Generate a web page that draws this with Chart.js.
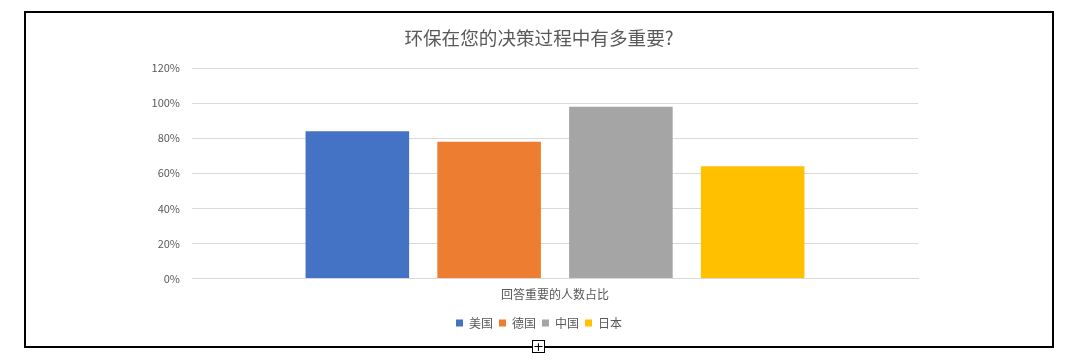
<!DOCTYPE html>
<html>
<head>
<meta charset="utf-8">
<script src="https://cdn.jsdelivr.net/npm/chart.js@4/dist/chart.umd.min.js"></script>
<style>
  html, body { margin: 0; padding: 0; background: #fff; width: 1080px; height: 360px; overflow: hidden; }
  #frame { position: absolute; left: 24px; top: 11px; width: 1030px; height: 337px; border: 2px solid #000; box-sizing: border-box; background: #fff; }
  #wrap { position: absolute; left: 0; top: 0; width: 1026px; height: 333px; }
  #handle { position: absolute; left: 532px; top: 340px; width: 11px; height: 11px; border: 1px solid #000; background: #fff;
            font: 13px/11px "DejaVu Sans", sans-serif; text-align: center; color: #000; }
</style>
</head>
<body>
<div id="frame"><div id="wrap"><canvas id="c" width="1026" height="333"></canvas></div></div>
<div id="handle">+</div>
<script>
const chartTitle = '环保在您的决策过程中有多重要?';
const categories = ['回答重要的人数占比'];
const seriesNames = ['美国', '德国', '中国', '日本'];
const seriesValues = [[0.84], [0.78], [0.98], [0.64]];
const seriesColors = ['#4472C4', '#ED7D31', '#A5A5A5', '#FFC000'];
const yTickLabels = ['0%', '20%', '40%', '60%', '80%', '100%', '120%'];

const FONT = '"Noto Sans CJK SC", "Noto Sans", sans-serif';
const TXT = '#595959';

new Chart(document.getElementById('c'), {
  type: 'bar',
  data: {
    labels: categories,
    datasets: seriesNames.map((n, i) => ({
      label: n,
      data: seriesValues[i],
      backgroundColor: seriesColors[i],
      borderWidth: 0,
      categoryPercentage: 0.726,
      barPercentage: 0.786
    }))
  },
  options: {
    responsive: false,
    animation: false,
    devicePixelRatio: 1,
    layout: { padding: { left: 0, right: 0, top: 14, bottom: 7 } },
    plugins: {
      title: {
        display: true, text: chartTitle, color: TXT,
        font: { family: FONT, size: 18.6, weight: 'normal' },
        padding: { top: 0, bottom: 18.7 }
      },
      legend: {
        position: 'bottom',
        labels: {
          color: TXT, font: { family: FONT, size: 12 },
          boxWidth: 7, boxHeight: 7, padding: 6
        }
      },
      tooltip: { enabled: false }
    },
    scales: {
      x: {
        grid: { display: false, drawTicks: false },
        border: { display: true, color: '#D9D9D9' },
        ticks: { color: TXT, font: { family: FONT, size: 12 }, padding: 9 }
      },
      y: {
        min: 0, max: 1.2,
        afterFit: s => { s.width = 166; },
        grid: { color: '#D9D9D9', drawTicks: false },
        border: { display: false },
        ticks: {
          stepSize: 0.2, padding: 12, color: TXT,
          font: { family: FONT, size: 11 },
          callback: (v, i) => yTickLabels[i]
        }
      },
      yRight: {
        position: 'right',
        display: true,
        afterFit: s => { s.width = 134; },
        grid: { display: false, drawTicks: false },
        border: { display: false },
        ticks: { display: false }
      }
    }
  }
});
</script>
</body>
</html>
